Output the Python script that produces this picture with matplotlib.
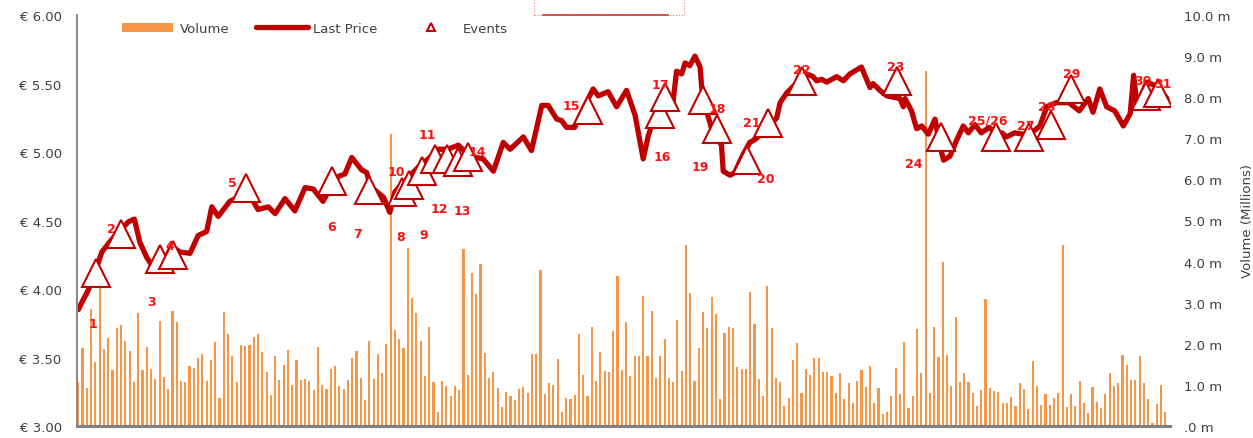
import numpy as np
import matplotlib
matplotlib.use('Agg')
import matplotlib.pyplot as plt
from matplotlib.patches import Patch, Rectangle
from matplotlib.lines import Line2D
from matplotlib.ticker import FuncFormatter, MultipleLocator

# daily volume, millions of shares (one bar per trading day)
volume = [
    1.06, 1.89, 0.92, 2.85, 1.55, 3.35, 1.87, 2.13, 1.36, 2.38,
    2.46, 2.06, 1.83, 1.06, 2.74, 1.36, 1.91, 1.39, 1.14, 2.55,
    1.19, 0.90, 2.81, 2.52, 1.09, 1.06, 1.45, 1.40, 1.65, 1.75,
    1.09, 1.61, 2.04, 0.67, 2.77, 2.25, 1.70, 1.08, 1.98, 1.95,
    1.98, 2.17, 2.25, 1.81, 1.31, 0.75, 1.70, 1.13, 1.48, 1.84,
    1.00, 1.61, 1.12, 1.14, 1.09, 0.88, 1.92, 1.00, 0.90, 1.39,
    1.46, 0.97, 0.91, 1.13, 1.65, 1.82, 1.17, 0.63, 2.06, 1.14,
    1.76, 1.29, 2.00, 7.10, 2.33, 2.12, 1.89, 4.33, 3.11, 2.74,
    2.07, 1.21, 2.41, 1.06, 0.33, 1.10, 0.97, 0.72, 0.97, 0.87,
    4.30, 1.23, 3.73, 3.21, 3.94, 1.78, 1.18, 1.32, 0.92, 0.47,
    0.82, 0.74, 0.64, 0.90, 0.95, 0.80, 1.74, 1.74, 3.80, 0.77,
    1.05, 0.99, 1.63, 0.33, 0.68, 0.65, 0.75, 2.24, 1.25, 0.73,
    2.40, 1.09, 1.80, 1.34, 1.31, 2.31, 3.64, 1.36, 2.54, 1.22,
    1.71, 1.71, 3.17, 1.70, 2.81, 1.18, 1.70, 2.12, 1.16, 1.06,
    2.58, 1.33, 4.40, 3.24, 1.09, 1.90, 2.77, 2.38, 3.14, 2.73,
    0.66, 2.27, 2.40, 2.39, 1.44, 1.38, 1.38, 3.25, 2.48, 1.14,
    0.73, 3.41, 2.39, 1.17, 1.06, 0.48, 0.67, 1.61, 2.02, 0.80,
    1.39, 1.23, 1.66, 1.66, 1.31, 1.32, 1.22, 0.81, 1.28, 0.66,
    1.05, 0.56, 1.10, 1.37, 0.94, 1.47, 0.56, 0.92, 0.29, 0.34,
    0.73, 1.40, 0.79, 2.04, 0.45, 0.73, 2.37, 1.30, 8.64, 0.80,
    2.42, 1.67, 3.98, 1.73, 0.98, 2.64, 1.07, 1.30, 1.06, 0.80,
    0.48, 0.88, 3.10, 0.92, 0.84, 0.82, 0.57, 0.57, 0.71, 0.49,
    1.05, 0.89, 0.41, 1.57, 0.97, 0.50, 0.77, 0.50, 0.67, 0.81,
    4.40, 0.46, 0.78, 0.49, 1.09, 0.57, 0.32, 0.96, 0.58, 0.45,
    0.79, 1.28, 0.97, 1.04, 1.72, 1.48, 1.13, 1.13, 1.70, 1.05,
    0.65, 0.08, 0.53, 0.99, 0.34,
]

# last price, traced at the turning points (day index, euro)
price_day = [
    0, 0.8, 2.3, 3.9, 5.5, 7, 8.6, 11.7, 13.1, 14.4,
    16, 17.5, 19.1, 20.3, 21.8, 23.8, 26.1, 28, 30, 31.2,
    32.7, 35.4, 38.2, 40.5, 42, 44.4, 46, 48.3, 50.6, 53,
    54.9, 57.2, 58.4, 60.7, 62.3, 63.9, 66.2, 67.4, 68.2, 70.5,
    71.3, 72.8, 74, 75.9, 77.9, 79.8, 81.8, 84.1, 86.4, 88.8,
    91.5, 94.6, 97, 99.3, 100.9, 104, 105.9, 108.3, 109.8, 111.8,
    112.9, 114.1, 116, 117.6, 120.3, 121.5, 123.8, 125.8, 128.1, 130.1,
    132, 133.2, 134.3, 136.7, 139, 139.8, 141, 141.8, 142.9, 144.1,
    145.3, 145.7, 146.8, 148, 150.3, 150.7, 152.3, 153.4, 155, 156.9,
    158.1, 161.6, 163.2, 164, 165.5, 167.1, 170.2, 171.7, 172.5, 173.7,
    174.9, 177.2, 178.8, 180.3, 183, 185, 185.7, 187.3, 188.9, 192,
    192.8, 193.2, 194.7, 195.9, 197.1, 198.6, 200.2, 201.3, 202.2, 203.7,
    205.3, 206.8, 208, 209.5, 211, 212.9, 214.6, 215.8, 216.9, 218.8,
    220.8, 222.8, 224.7, 226.3, 228.5, 231.5, 233.9, 236, 237.1, 238.7,
    240.3, 242.2, 244.2, 245.8, 246.6, 247.4, 249.7, 252, 254.4,
]
price = [
    3.85, 3.90, 3.99, 4.12, 4.27, 4.33, 4.39, 4.49, 4.51, 4.34,
    4.23, 4.16, 4.27, 4.22, 4.31, 4.27, 4.26, 4.39, 4.42, 4.60,
    4.53, 4.64, 4.68, 4.66, 4.58, 4.60, 4.55, 4.66, 4.57, 4.74,
    4.73, 4.64, 4.71, 4.82, 4.84, 4.96, 4.87, 4.85, 4.75, 4.69,
    4.67, 4.56, 4.71, 4.77, 4.84, 4.90, 4.95, 5.02, 5.02, 5.05,
    4.97, 4.95, 4.86, 5.07, 5.02, 5.11, 5.01, 5.34, 5.34, 5.24,
    5.23, 5.18, 5.18, 5.29, 5.46, 5.41, 5.44, 5.33, 5.45, 5.27,
    4.95, 5.12, 5.22, 5.30, 5.37, 5.59, 5.57, 5.65, 5.63, 5.70,
    5.62, 5.46, 5.30, 5.17, 5.05, 4.86, 4.83, 4.85, 4.96, 5.07,
    5.09, 5.19, 5.25, 5.36, 5.43, 5.48, 5.57, 5.55, 5.52, 5.53,
    5.51, 5.55, 5.52, 5.57, 5.62, 5.47, 5.50, 5.45, 5.41, 5.39,
    5.33, 5.39, 5.30, 5.17, 5.19, 5.13, 5.24, 5.05, 4.94, 4.97,
    5.09, 5.19, 5.14, 5.20, 5.14, 5.18, 5.13, 5.14, 5.11, 5.14,
    5.13, 5.14, 5.19, 5.33, 5.36, 5.36, 5.30, 5.39, 5.29, 5.46,
    5.33, 5.30, 5.19, 5.28, 5.56, 5.34, 5.51, 5.48, 5.39,
]

# events
event_day = [4.1, 10.0, 19.1, 22.1, 39.1, 59.2, 68.0, 75.6, 77.2, 80.2,
             83.3, 86.1, 88.7, 91.0, 119.2, 136.0, 137.0, 146.0, 149.2, 156.2,
             161.2, 169.2, 191.2, 201.6, 214.4, 222.2, 227.3, 231.9, 249.6, 252.3]
event_price = [4.12, 4.40, 4.22, 4.25, 4.74, 4.79, 4.72, 4.71, 4.76, 4.86,
               4.95, 4.95, 4.93, 4.96, 5.31, 5.28, 5.40, 5.38, 5.17, 4.94,
               5.21, 5.52, 5.52, 5.11, 5.11, 5.11, 5.20, 5.46, 5.41, 5.43]
event_label = [str(i) for i in range(1, 25)] + ['25/26'] + [str(i) for i in range(27, 32)]

# where each number sits relative to its triangle (pixels)
label_off = [(-3, -51), (-10, 6), (-9, -43), (-3, 9), (-13, 5), (0, -46), (-12, -43),
             (-1, -45), (15, -50), (-25, 0), (-7, 24), (-7, -50), (4, -49), (10, 6),
             (-17, 4), (2, -43), (-4, 13), (14, -9), (-17, -38), (19, -18), (-16, 1),
             (-1, 11), (-1, 14), (-27, -27), (-8, 17), (-3, 11), (-4, 18), (1, 15),
             (-4, 15), (5, 10)]

W, H = 1253, 439
fig = plt.figure(figsize=(W / 100, H / 100), dpi=100)
ax = fig.add_axes([77 / W, 12 / H, (1170 - 77) / W, (427 - 16) / H])
ax2 = ax.twinx()

tc = '#404040'
dark = '#C00000'

days = np.arange(len(volume))
ax2.bar(days, volume, width=0.5, color='#F79646', linewidth=0)
ax2.set_ylim(0, 10)
ax2.yaxis.set_major_locator(MultipleLocator(1))


def mfmt(v, pos):
    s = '%.1f' % v
    if s.startswith('0'):
        s = s[1:]
    return s + ' m'


ax2.yaxis.set_major_formatter(FuncFormatter(mfmt))
ax2.tick_params(axis='y', length=0, pad=10, labelsize=9.5, labelcolor=tc)
ax2.set_ylabel('Volume (Millions)', fontsize=9.5, color=tc)
ax2.yaxis.label.set_horizontalalignment('center')
ax2.yaxis.set_label_coords((1241 - 77) / (1170 - 77), 0.5)
for s in ax2.spines.values():
    s.set_visible(False)

ax.set_zorder(ax2.get_zorder() + 1)
ax.patch.set_visible(False)
ax.plot(price_day, price, color=dark, lw=3.8, solid_joinstyle='round',
        solid_capstyle='round', zorder=2)
ax.plot(event_day, event_price, ls='none', marker='^', ms=19.5, mfc='white',
        mec=dark, mew=1.5, zorder=4)
for d, p, lab, off in zip(event_day, event_price, event_label, label_off):
    ax.annotate(lab, (d, p), xytext=off, textcoords='offset pixels',
                ha='center', va='center', color='#FF1010', fontsize=9,
                fontweight='bold', zorder=5)

ax.set_xlim(-0.3, 255.1)
ax.set_ylim(3, 6)
ax.yaxis.set_major_locator(MultipleLocator(0.5))
ax.yaxis.set_major_formatter(FuncFormatter(lambda v, pos: '€ %.2f' % v))
ax.tick_params(axis='y', length=0, pad=11, labelsize=9.5, labelcolor=tc)
ax.set_xticks([])
ax.spines['top'].set_visible(False)
ax.spines['right'].set_visible(False)
ax.spines['left'].set_color('#8c8c8c')
ax.spines['left'].set_linewidth(1.5)
ax.spines['bottom'].set_color('#808080')
ax.spines['bottom'].set_linewidth(2.2)

handles = [Patch(facecolor='#F79646', edgecolor='none'),
           Line2D([], [], color=dark, lw=3.8, solid_capstyle='round'),
           Line2D([], [], ls='none', marker='^', ms=6, mfc='white', mec=dark, mew=1.5)]
leg = ax.legend(handles, ['Volume', 'Last Price', 'Events'], ncol=3, frameon=False,
                loc='upper left', bbox_to_anchor=(122 / W, 1 - 23 / H),
                bbox_transform=fig.transFigure, borderaxespad=0, borderpad=0,
                fontsize=9.5, handlelength=3.9, handletextpad=0.45,
                columnspacing=2.05)
for t in leg.get_texts():
    t.set_color(tc)

# clipped box at the top edge
fig.add_artist(Rectangle((534 / W, (H - 16) / H), 150 / W, 30 / H, fill=False,
                         ec='#e77', lw=0.8, ls=':', transform=fig.transFigure))
fig.add_artist(Line2D([543 / W, 668 / W], [(H - 16) / H] * 2, color='#d33',
                      lw=1.2, transform=fig.transFigure))

fig.savefig('out.png', dpi=100)
